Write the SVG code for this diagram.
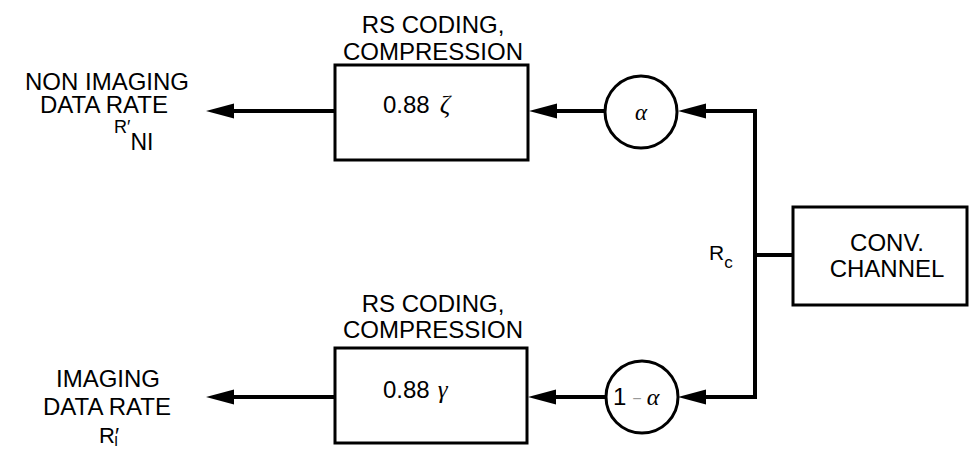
<svg xmlns="http://www.w3.org/2000/svg" width="970" height="449" viewBox="0 0 970 449">
<style>
text{font-family:"Liberation Sans",Arial,sans-serif;fill:#000;}
.lbl{font-size:24px;text-anchor:middle;}
.box{fill:#fff;stroke:#000;stroke-width:3;}
.wire{fill:none;stroke:#000;stroke-width:4;}
.greek{font-family:"Liberation Serif","DejaVu Serif",serif;font-style:italic;}
</style>
<defs>
<marker id="ah" markerUnits="userSpaceOnUse" markerWidth="30" markerHeight="16" viewBox="0 -8 30 16" refX="8" refY="0" orient="auto">
<path d="M0,-7.5 L28,0 L0,7.5 z" fill="#000"/>
</marker>
</defs>
<g id="connectors">
<path class="wire" d="M335,111 L226,111" marker-end="url(#ah)"/>
<path class="wire" d="M605,111 L549,111" marker-end="url(#ah)"/>
<path class="wire" d="M793,255 L755,255"/>
<path class="wire" d="M755,111 L755,397"/>
<path class="wire" d="M757,111 L698,111" marker-end="url(#ah)"/>
<path class="wire" d="M757,397 L698,397" marker-end="url(#ah)"/>
<path class="wire" d="M606,397 L548,397" marker-end="url(#ah)"/>
<path class="wire" d="M335,397 L226,397" marker-end="url(#ah)"/>
</g>
<g id="out-nonimaging">
<text class="lbl"><tspan x="107" y="90">NON IMAGING</tspan><tspan x="104" y="113">DATA RATE</tspan></text>
<text x="114" y="133" style="font-size:18px">R′<tspan dy="17" style="font-size:23px">NI</tspan></text>
</g>
<g id="out-imaging">
<text class="lbl"><tspan x="108" y="387">IMAGING</tspan><tspan x="107" y="415">DATA RATE</tspan></text>
<text x="99" y="443" style="font-size:22px">R′<tspan dx="-5" dy="3" style="font-size:15px">I</tspan></text>
</g>
<g id="rs-top">
<text class="lbl"><tspan x="433" y="33">RS CODING,</tspan><tspan x="433" y="60">COMPRESSION</tspan></text>
<rect class="box" x="335" y="65" width="193" height="95"/>
<text x="383" y="113" style="font-size:24px">0.88<tspan class="greek" dx="10" style="font-size:26px">ζ</tspan></text>
</g>
<g id="rs-bottom">
<text class="lbl"><tspan x="433" y="312">RS CODING,</tspan><tspan x="433" y="338">COMPRESSION</tspan></text>
<rect class="box" x="335" y="348" width="192" height="95"/>
<text x="383" y="398" style="font-size:24px">0.88<tspan class="greek" dx="8" style="font-size:25px">γ</tspan></text>
</g>
<g id="alpha">
<circle class="box" cx="641" cy="112" r="36"/>
<text class="greek" x="641" y="120" style="font-size:23px;text-anchor:middle">α</text>
</g>
<g id="one-minus-alpha">
<circle class="box" cx="642" cy="397" r="36"/>
<text x="613" y="405" style="font-size:24px">1<tspan dx="6" dy="-1" style="font-size:16px;fill:#999">−</tspan><tspan class="greek" dx="5" dy="1" style="font-size:24px">α</tspan></text>
</g>
<g id="rc">
<text x="709" y="260" style="font-size:21px">R<tspan dy="8" style="font-size:17px">c</tspan></text>
</g>
<g id="conv">
<rect class="box" x="793" y="207" width="174" height="98"/>
<text class="lbl"><tspan x="887" y="251">CONV.</tspan><tspan x="887" y="277">CHANNEL</tspan></text>
</g>
</svg>
